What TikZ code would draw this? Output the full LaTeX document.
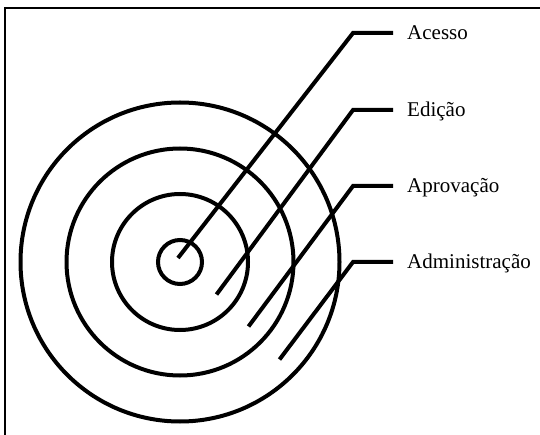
\documentclass[tikz,border=0pt]{standalone}
\usepackage{fontspec}
\setmainfont{Liberation Serif}
\usepackage{tikz}
\usetikzlibrary{positioning}
\definecolor{inkc}{RGB}{0,0,0}

\begin{document}
\begin{tikzpicture}[x=1pt, y=-1pt,
    ring/.style={draw=inkc, line width=4pt},
    leader/.style={draw=inkc, line width=4pt},
    lbl/.style={font=\fontsize{21}{25}\selectfont, text=inkc, inner sep=0pt, anchor=base west}]
  \useasboundingbox (0,0) rectangle (540,435);
  \def\cx{180}
  \def\cy{262}
  % frame (top and left edge only)
  \draw[inkc, line width=1.5pt] (5,435) -- (5,8) -- (540,8);
  % rings
  \foreach \r in {22,68,113.5,159.5} \draw[ring] (\cx,\cy) circle (\r);
  % Acesso
  \coordinate (e1) at (178,258);
  \coordinate (k1) at (353,33);
  \coordinate (t1) at (393,33);
  \node[lbl, xshift=14pt, yshift=-6.5pt] (acesso) at (t1) {Acesso};
  \draw[leader] (e1) -- (k1) -- (t1);
  % Edicao
  \coordinate (e2) at (216.5,294.5);
  \coordinate (k2) at (353,110);
  \coordinate (t2) at (393,110);
  \node[lbl, xshift=14pt, yshift=-6.5pt] (edicao) at (t2) {Edição};
  \draw[leader] (e2) -- (k2) -- (t2);
  % Aprovacao
  \coordinate (e3) at (248.5,326.5);
  \coordinate (k3) at (353,186);
  \coordinate (t3) at (393,186);
  \node[lbl, xshift=14pt, yshift=-6.5pt] (aprovacao) at (t3) {Aprovação};
  \draw[leader] (e3) -- (k3) -- (t3);
  % Administracao
  \coordinate (e4) at (279.5,359.5);
  \coordinate (k4) at (353,262);
  \coordinate (t4) at (393,262);
  \node[lbl, xshift=14pt, yshift=-6.5pt] (admin) at (t4) {Administração};
  \draw[leader] (e4) -- (k4) -- (t4);
\end{tikzpicture}
\end{document}
